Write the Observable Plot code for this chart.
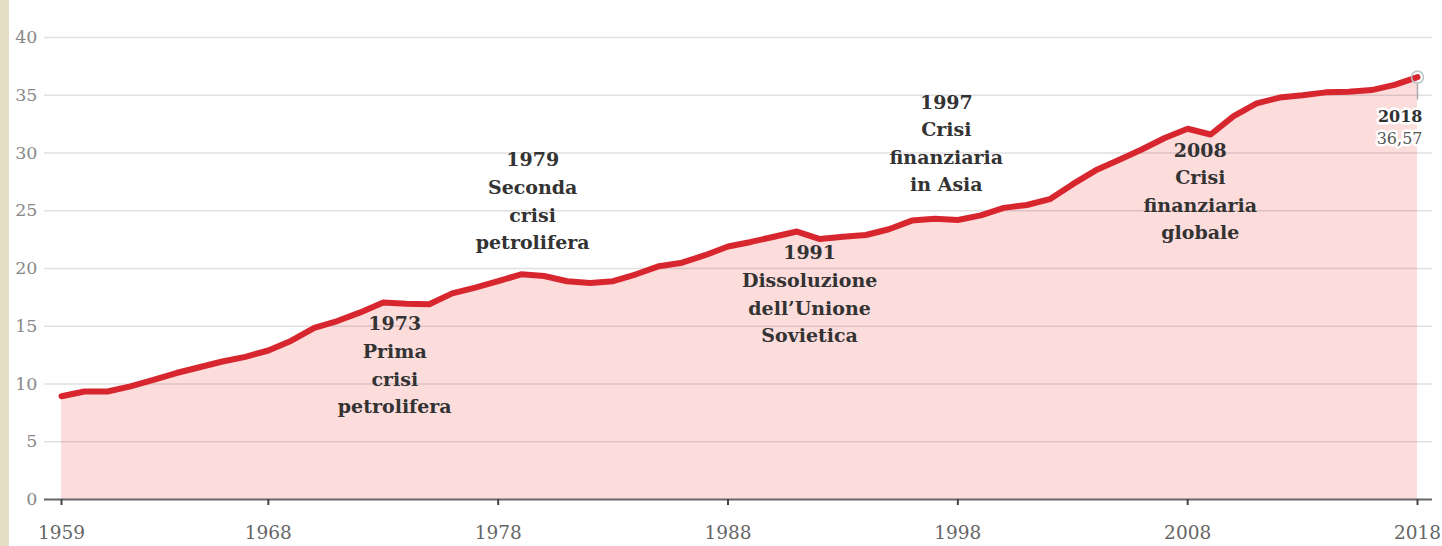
<!DOCTYPE html>
<html>
<head>
<meta charset="utf-8">
<script src="https://cdn.jsdelivr.net/npm/d3@7"></script>
<script src="https://cdn.jsdelivr.net/npm/@observablehq/plot@0.6"></script>
<style>
  html, body { margin: 0; padding: 0; background: #fff; }
  body { border-left: 9px solid #e6dec4; width: 1433px; height: 546px; overflow: hidden; }
  svg { display: block; background: #fff; }
</style>
</head>
<body>
<div id="chart"></div>
<script>
const years = [1959,1960,1961,1962,1963,1964,1965,1966,1967,1968,1969,1970,1971,1972,1973,1974,1975,1976,1977,1978,1979,1980,1981,1982,1983,1984,1985,1986,1987,1988,1989,1990,1991,1992,1993,1994,1995,1996,1997,1998,1999,2000,2001,2002,2003,2004,2005,2006,2007,2008,2009,2010,2011,2012,2013,2014,2015,2016,2017,2018];
const emissions = [8.94,9.35,9.35,9.8,10.35,10.95,11.45,11.95,12.35,12.9,13.75,14.85,15.45,16.2,17.05,16.95,16.9,17.85,18.35,18.9,19.5,19.35,18.9,18.75,18.9,19.5,20.2,20.5,21.15,21.9,22.3,22.75,23.2,22.55,22.75,22.9,23.4,24.15,24.3,24.2,24.6,25.25,25.5,26.0,27.3,28.5,29.4,30.3,31.3,32.1,31.6,33.2,34.3,34.8,35.0,35.25,35.3,35.45,35.9,36.57];
const xTicks = [1959,1968,1978,1988,1998,2008,2018];
const yTicks = [0,5,10,15,20,25,30,35,40];
const eventYears = [1973.5, 1979.5, 1991.55, 1997.5, 2008.55];
const eventLevels = [15.55, 29.75, 21.7, 34.75, 30.6];
const eventLabels = [
  "1973\nPrima\ncrisi\npetrolifera",
  "1979\nSeconda\ncrisi\npetrolifera",
  "1991\nDissoluzione\ndell’Unione\nSovietica",
  "1997\nCrisi\nfinanziaria\nin Asia",
  "2008\nCrisi\nfinanziaria\nglobale"
];

const data = years.map((year, i) => ({year, value: emissions[i]}));
const events = eventLabels.map((label, i) => ({year: eventYears[i], value: eventLevels[i], label}));
const last = data[data.length - 1];

const chart = Plot.plot({
  width: 1433,
  height: 546,
  marginLeft: 35,
  marginRight: 10,
  marginTop: 37,
  marginBottom: 47,
  style: {fontFamily: "DejaVu Serif", fontSize: "17px", background: "#fff"},
  x: {domain: [1959, 2018], insetLeft: 17, insetRight: 15},
  y: {domain: [0, 40]},
  marks: [
    Plot.areaY(data, {x: "year", y: "value", fill: "#fddcdc"}),
    Plot.ruleY(yTicks.filter(d => d > 0), {stroke: "#000", strokeOpacity: 0.12, strokeWidth: 1.5}),
    Plot.line(data, {x: "year", y: "value", stroke: "#d8262e", strokeWidth: 6, strokeLinejoin: "round", strokeLinecap: "round"}),
    Plot.ruleY([0], {stroke: "#666", strokeWidth: 2}),
    Plot.axisX({ticks: xTicks, tickFormat: d => String(d), label: null, tickSize: 6, tickPadding: 20, stroke: "#444", strokeWidth: 2, fill: "#666", fontSize: 18.5}),
    Plot.axisY({ticks: yTicks, label: null, tickSize: 0, tickPadding: 7, fill: "#888", fontSize: 17.5}),
    Plot.text(events, {x: "year", y: "value", text: "label", lineAnchor: "top", lineHeight: 1.45, dy: -9, fontSize: 19, fontWeight: "bold", fontFamily: "DejaVu Serif", fill: "#333"}),
    Plot.ruleX([last], {x: "year", y1: "value", y2: d => d.value - 2.0, stroke: "#aaa", strokeWidth: 1.5, insetTop: 6}),
    Plot.dot([last], {x: "year", y: "value", r: 6, stroke: "#b8c4c8", strokeWidth: 1.5, fill: "none"}),
    Plot.text([last], {x: "year", y: "value", text: d => String(d.year), dy: 40, dx: 5, textAnchor: "end", fontWeight: "bold", fontSize: 16, fill: "#333", stroke: "white", strokeWidth: 5}),
    Plot.text([last], {x: "year", y: "value", text: d => d.value.toFixed(2).replace(".", ","), dy: 62, dx: 5, textAnchor: "end", fontSize: 16, fill: "#555", stroke: "white", strokeWidth: 5})
  ]
});
document.getElementById("chart").append(chart);
</script>
</body>
</html>
